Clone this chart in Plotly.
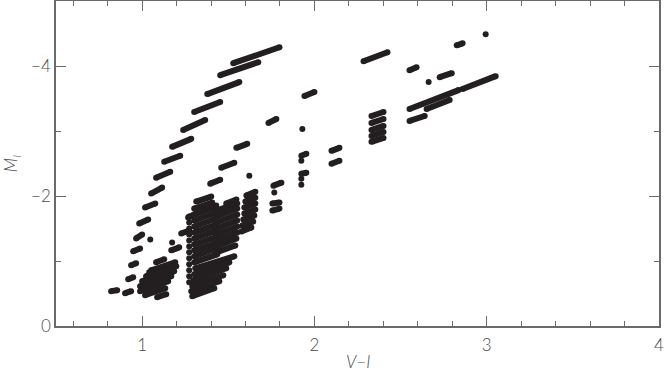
import plotly.graph_objects as go

# Each dash = (x0, y0, x1, y1) in data units (V-I, M_I)
track_upper = [
    (1.529, -4.043, 1.797, -4.288),
    (1.453, -3.859, 1.674, -4.058),
    (1.378, -3.568, 1.564, -3.752),
    (1.302, -3.292, 1.453, -3.446),
    (1.238, -3.017, 1.366, -3.170),
    (1.174, -2.756, 1.285, -2.879),
    (1.128, -2.527, 1.221, -2.619),
    (1.081, -2.282, 1.163, -2.374),
    (1.052, -2.037, 1.116, -2.129),
    (1.017, -1.822, 1.076, -1.884),
    (0.983, -1.577, 1.035, -1.639),
    (0.965, -1.348, 1.000, -1.409),
    (0.948, -1.149, 0.988, -1.194),
    (0.936, -0.934, 0.965, -0.965),
    (0.919, -0.720, 0.948, -0.750),
    (0.901, -0.505, 0.936, -0.536),
    (0.820, -0.536, 0.855, -0.551),
]

track_middle = [
    (2.285, -4.073, 2.424, -4.211),
    (1.942, -3.538, 2.000, -3.599),
    (1.733, -3.124, 1.779, -3.185),
    (1.547, -2.741, 1.610, -2.802),
    (1.459, -2.435, 1.535, -2.511),
    (1.395, -2.190, 1.453, -2.251),
    (1.314, -1.914, 1.401, -1.991),
    (1.267, -1.669, 1.349, -1.776),
    (1.227, -1.424, 1.273, -1.470),
    (1.169, -1.164, 1.215, -1.210),
]

cluster_left = [
    (1.081, -0.980, 1.128, -1.026),
    (1.052, -0.858, 1.192, -0.980),
    (1.023, -0.766, 1.198, -0.919),
    (1.000, -0.689, 1.186, -0.842),
    (0.988, -0.613, 1.169, -0.766),
    (0.988, -0.536, 1.151, -0.689),
    (1.017, -0.475, 1.134, -0.582),
    (1.087, -0.444, 1.140, -0.490),
]

block_a = [
    (1.302, -1.807, 1.407, -1.899),
    (1.302, -1.715, 1.413, -1.822),
    (1.302, -1.623, 1.413, -1.730),
    (1.302, -1.531, 1.413, -1.639),
    (1.302, -1.440, 1.419, -1.547),
    (1.302, -1.348, 1.419, -1.455),
    (1.302, -1.256, 1.424, -1.363),
    (1.302, -1.164, 1.424, -1.271),
    (1.302, -1.072, 1.430, -1.194),
    (1.302, -0.980, 1.436, -1.103),
    (1.308, -0.888, 1.535, -1.072),
    (1.302, -0.796, 1.506, -0.980),
    (1.297, -0.704, 1.488, -0.888),
    (1.291, -0.613, 1.471, -0.781),
    (1.285, -0.536, 1.448, -0.689),
    (1.291, -0.459, 1.419, -0.582),
]

block_b = [
    (1.488, -1.884, 1.547, -1.945),
    (1.430, -1.776, 1.552, -1.884),
    (1.430, -1.685, 1.552, -1.807),
    (1.430, -1.593, 1.552, -1.715),
    (1.430, -1.501, 1.552, -1.623),
    (1.430, -1.409, 1.552, -1.531),
    (1.430, -1.317, 1.552, -1.440),
    (1.430, -1.225, 1.547, -1.348),
    (1.430, -1.133, 1.541, -1.240),
]

block_c = [
    (1.605, -2.006, 1.657, -2.067),
    (1.599, -1.914, 1.657, -1.975),
    (1.593, -1.822, 1.657, -1.884),
    (1.593, -1.730, 1.657, -1.792),
    (1.587, -1.639, 1.651, -1.700),
    (1.581, -1.547, 1.645, -1.608),
    (1.576, -1.455, 1.634, -1.516),
]

other_dashes = [
    (2.552, -3.936, 2.593, -3.982),
    (2.727, -3.828, 2.797, -3.890),
    (2.826, -4.318, 2.860, -4.349),
    (2.552, -3.338, 2.837, -3.629),
    (2.651, -3.338, 2.785, -3.476),
    (2.552, -3.155, 2.640, -3.231),
    (2.860, -3.645, 3.052, -3.844),
    (2.331, -3.231, 2.401, -3.292),
    (2.331, -3.124, 2.401, -3.185),
    (2.331, -3.017, 2.401, -3.078),
    (2.331, -2.925, 2.401, -2.986),
    (2.331, -2.833, 2.401, -2.894),
    (2.099, -2.695, 2.145, -2.741),
    (2.099, -2.496, 2.145, -2.542),
    (1.924, -2.619, 1.953, -2.649),
    (1.924, -2.343, 1.953, -2.358),
    (1.762, -2.159, 1.808, -2.205),
    (1.756, -1.884, 1.797, -1.899),
    (1.756, -1.776, 1.797, -1.807),
]

dot_x = [2.994, 2.663, 1.930, 1.622, 1.430, 1.047, 1.174, 1.767, 1.924, 1.924, 1.924, 1.041,
         1.273, 1.273, 1.273, 1.273, 1.273, 1.273, 1.273, 1.273, 1.273, 1.273, 1.273, 1.273]
dot_y = [-4.487, -3.752, -3.032, -2.312, -1.853, -1.332, -1.286, -2.052, -2.542, -2.266, -2.175, -0.827,
         -1.685, -1.593, -1.501, -1.409, -1.317, -1.225, -1.133, -1.041, -0.949, -0.858, -0.766, -0.674]

x_major = [1, 2, 3, 4]
y_major = [0, -2, -4]
y_labels = ["0", "\u22122", "\u22124"]
x_title = "<i>V\u2212I</i>"

INK = "#231f20"
AX = "#6a6a6a"
FONT = dict(family="Lato", size=17, color="#4d4d4d", weight=300)
SZ = 6

xs, ys = [], []
for group in (track_upper, track_middle, cluster_left, block_a, block_b, block_c, other_dashes):
    for x0, y0, x1, y1 in group:
        xs += [x0, x1, None]
        ys += [y0, y1, None]

fig = go.Figure()
fig.add_trace(go.Scatter(x=xs, y=ys, mode="lines+markers",
                         line=dict(color=INK, width=SZ),
                         marker=dict(color=INK, size=SZ),
                         connectgaps=False, hoverinfo="skip", showlegend=False))
fig.add_trace(go.Scatter(x=dot_x, y=dot_y, mode="markers",
                         marker=dict(color=INK, size=SZ),
                         hoverinfo="skip", showlegend=False))

fig.update_layout(
    width=666, height=374,
    margin=dict(l=56, r=7, t=1, b=48, autoexpand=False),
    paper_bgcolor="white", plot_bgcolor="white",
    font=FONT,
    xaxis=dict(range=[0.5, 4.0], tickvals=x_major, ticktext=[str(v) for v in x_major],
               ticks="inside", ticklen=10, tickwidth=1.2, tickcolor=AX,
               minor=dict(dtick=0.2, tick0=0, ticks="inside", ticklen=5, tickwidth=1, tickcolor=AX),
               showline=True, linecolor=AX, linewidth=1.5, mirror="ticks",
               showgrid=False, zeroline=False, tickfont=FONT, automargin=False,
               ticklabelstandoff=3),
    yaxis=dict(range=[0, -5.0], tickvals=y_major, ticktext=y_labels,
               ticks="inside", ticklen=10, tickwidth=1.2, tickcolor=AX,
               minor=dict(dtick=1, tick0=0, ticks="inside", ticklen=5, tickwidth=1, tickcolor=AX),
               showline=True, linecolor=AX, linewidth=1.5, mirror="ticks",
               showgrid=False, zeroline=False, tickfont=FONT, automargin=False,
               title=dict(text="<i>M<sub>I</sub></i>", font=FONT)),
    annotations=[dict(text=x_title, xref="paper", yref="paper", x=0.5, y=-0.11,
                      xanchor="center", yanchor="middle", showarrow=False,
                      borderpad=0, font=FONT)],
)

fig.write_html("out.html", config={"displayModeBar": False},
               post_script="document.body.style.margin='0';document.body.style.overflow='hidden';")
